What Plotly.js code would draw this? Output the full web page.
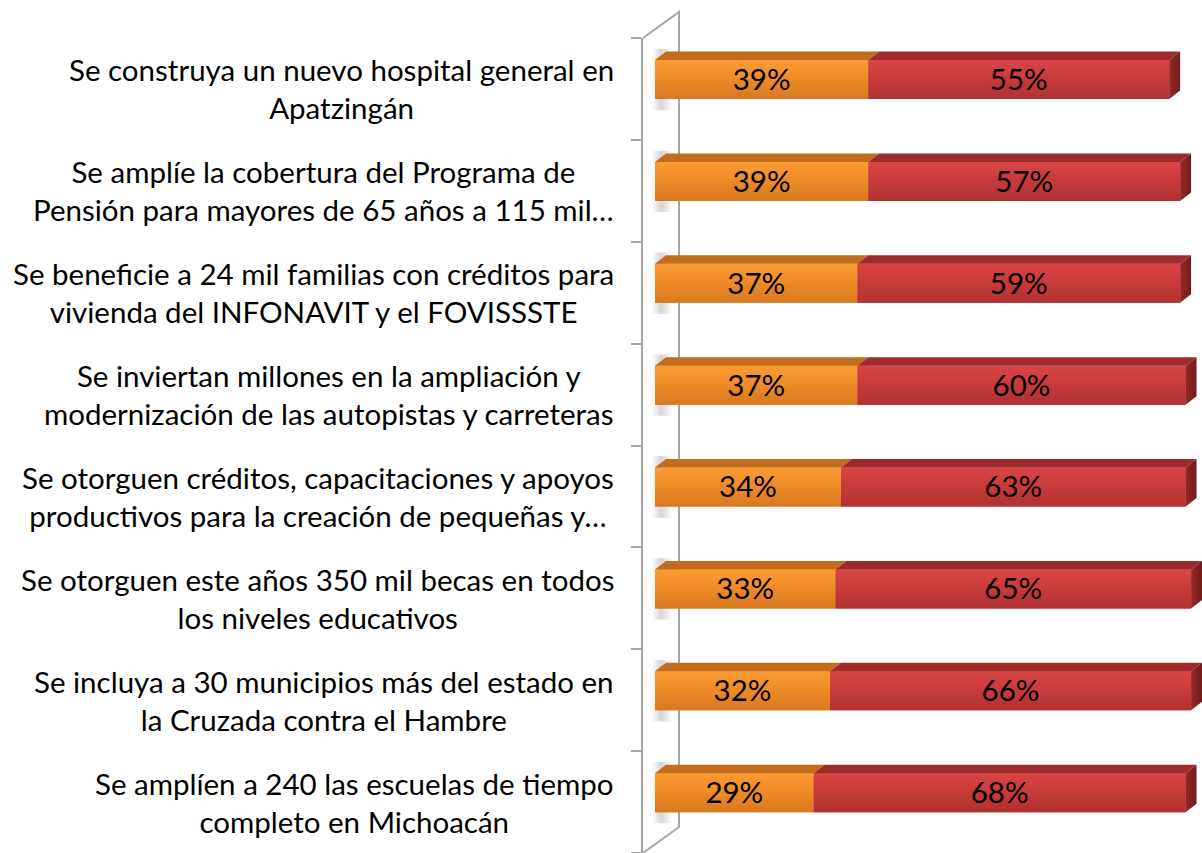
<!DOCTYPE html>
<html>
<head>
<meta charset="utf-8">
<script src="https://cdn.plot.ly/plotly-3.0.1.min.js"></script>
<style>html,body{margin:0;padding:0;background:#fff;}#chart{width:1202px;height:853px;}</style>
</head>
<body>
<div id="chart"></div>
<script>
const categories = [
  "Se construya un nuevo hospital general en<br>Apatzingán",
  "Se amplíe la cobertura del Programa de<br>Pensión para mayores de 65 años a 115 mil…",
  "Se beneficie a 24 mil familias con créditos para<br>vivienda del INFONAVIT y el FOVISSSTE",
  "Se inviertan millones en la ampliación y<br>modernización de las autopistas y carreteras",
  "Se otorguen créditos, capacitaciones y apoyos<br>productivos para la creación de pequeñas y…",
  "Se otorguen este años 350 mil becas en todos<br>los niveles educativos",
  "Se incluya a 30 municipios más del estado en<br>la Cruzada contra el Hambre",
  "Se amplíen a 240 las escuelas de tiempo<br>completo en Michoacán"
];
const seriesA = [39, 39, 37, 37, 34, 33, 32, 29];   // orange
const seriesB = [55, 57, 59, 60, 63, 65, 66, 68];   // red

const FONT = "Lato, 'Open Sans', sans-serif";
const FS = 29.5;
const pos = categories.map((c, i) => i);
const OFF = -0.284, W = 0.383;       // front face in category units
const DX = 2.0, DY = 0.083;          // 3D depth offset

const none = {width: 0};
const traces = [];

// underlying flat bars (stacked)
traces.push({type: 'bar', orientation: 'h', y: pos, x: seriesA, width: W, offset: OFF,
  marker: {color: '#EF8A27', line: none}, hoverinfo: 'skip'});
traces.push({type: 'bar', orientation: 'h', y: pos, x: seriesB, base: seriesA, width: W, offset: OFF,
  marker: {color: '#CB3A3A', line: none}, hoverinfo: 'skip'});

// soft shadows on the side wall
pos.forEach(i => {
  const yt = i + OFF - 0.11, yb = i + OFF + W + 0.11;
  traces.push({type: 'scatter', mode: 'lines', x: [-0.6, 3.2, 3.2, -0.6, -0.6], y: [yt, yt, yb, yb, yt],
    fill: 'toself', line: none, hoverinfo: 'skip',
    fillgradient: {type: 'horizontal', start: -0.6, stop: 3.2,
      colorscale: [[0, 'rgba(150,150,150,0)'], [0.45, 'rgba(150,150,150,0.4)'], [1, 'rgba(150,150,150,0)']]}});
});

// front faces with vertical gradient
function frontFace(x0, len, i, cTop, cMid, cBot) {
  const yt = i + OFF, yb = i + OFF + W, x1 = x0 + len;
  return {type: 'scatter', mode: 'lines', x: [x0, x1, x1, x0, x0], y: [yt, yt, yb, yb, yt],
    fill: 'toself', line: none, hoverinfo: 'skip',
    fillgradient: {type: 'vertical', start: yt, stop: yb,
      colorscale: [[0, cTop], [0.35, cMid], [1, cBot]]}};
}
pos.forEach(i => {
  traces.push(frontFace(0, seriesA[i], i, '#FA9C33', '#F39029', '#D8781F'));
  traces.push(frontFace(seriesA[i], seriesB[i], i, '#D94545', '#CE3D3D', '#B03131'));
});

// top faces
function topFaces(starts, lens) {
  const xs = [], ys = [];
  pos.forEach(i => {
    const x0 = starts[i], x1 = starts[i] + lens[i], yt = i + OFF;
    xs.push(x0, x1, x1 + DX, x0 + DX, x0, null);
    ys.push(yt, yt, yt - DY, yt - DY, yt, null);
  });
  return {xs, ys};
}
const zeros = pos.map(() => 0);
const tA = topFaces(zeros, seriesA);
const tB = topFaces(seriesA, seriesB);
traces.push({type: 'scatter', mode: 'lines', x: tA.xs, y: tA.ys, fill: 'toself', fillcolor: '#C26C1D',
  line: none, hoverinfo: 'skip'});
traces.push({type: 'scatter', mode: 'lines', x: tB.xs, y: tB.ys, fill: 'toself', fillcolor: '#9E2B2B',
  line: none, hoverinfo: 'skip'});

// end caps
pos.forEach(i => {
  const xe = seriesA[i] + seriesB[i], yt = i + OFF, yb = i + OFF + W;
  traces.push({type: 'scatter', mode: 'lines',
    x: [xe, xe + DX, xe + DX, xe, xe], y: [yt, yt - DY, yb - DY, yb, yt],
    fill: 'toself', line: none, hoverinfo: 'skip',
    fillgradient: {type: 'horizontal', start: xe, stop: xe + DX,
      colorscale: [[0, '#9A2828'], [1, '#6E1C1C']]}});
});

// data labels
const lx = [], ly = [], lt = [];
pos.forEach(i => {
  lx.push(seriesA[i] / 2, seriesA[i] + seriesB[i] / 2);
  ly.push(i + OFF + W / 2 + 0.03, i + OFF + W / 2 + 0.03);
  lt.push(seriesA[i] + '%', seriesB[i] + '%');
});
traces.push({type: 'scatter', mode: 'text', x: lx, y: ly, text: lt, textposition: 'middle center',
  textfont: {family: FONT, size: FS, color: '#000'}, hoverinfo: 'skip'});

const annotations = categories.map((c, i) => ({
  xref: 'paper', yref: 'y', x: -0.0483, y: i, xanchor: 'right', yanchor: 'middle',
  text: c, align: 'center', showarrow: false,
  font: {family: FONT, size: FS, color: '#000'}
}));

const gray = '#A6A6A6';
const layout = {
  width: 1202, height: 853,
  margin: {l: 643, r: 0, t: 38, b: 0, pad: 0},
  paper_bgcolor: '#fff', plot_bgcolor: 'rgba(0,0,0,0)',
  barmode: 'overlay', showlegend: false,
  xaxis: {range: [-2.2, 100], visible: false, fixedrange: true},
  yaxis: {range: [7.5, -0.5], tickvals: [-0.5, 0.5, 1.5, 2.5, 3.5, 4.5, 5.5, 6.5, 7.5],
          ticks: 'outside', ticklen: 10, tickwidth: 2, tickcolor: gray,
          showticklabels: false, showline: true, linecolor: gray, linewidth: 2,
          showgrid: false, zeroline: false, fixedrange: true},
  shapes: [
    {type: 'path', xref: 'paper', yref: 'paper', layer: 'below',
     path: 'M0,1 L0.0644,1.0319 L0.0644,0.0319 L0,0',
     line: {color: gray, width: 2}}
  ],
  annotations: annotations
};
Plotly.newPlot('chart', traces, layout, {displayModeBar: false, staticPlot: true});
</script>
</body>
</html>
